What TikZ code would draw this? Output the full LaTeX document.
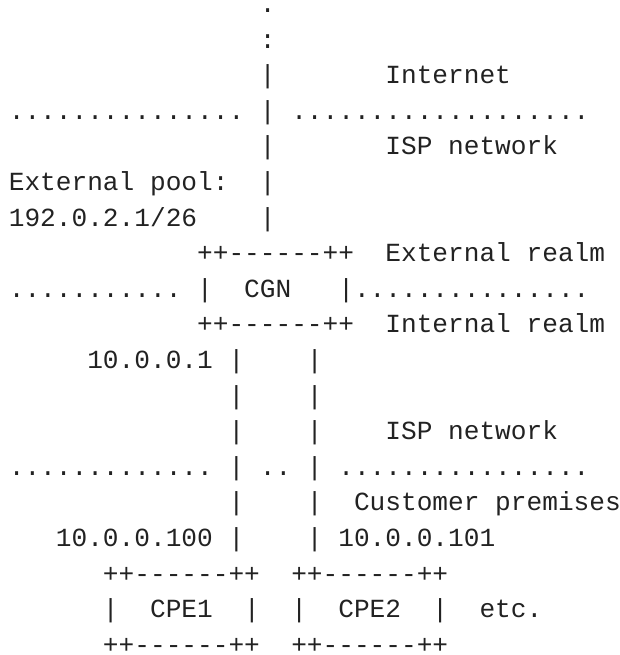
\documentclass[tikz,border=0pt]{standalone}
\usepackage{fontspec}
\newfontfamily\asciifont{Liberation Mono}[Ligatures=TeXOff]
\usepackage{xcolor}
\definecolor{inkgray}{HTML}{222222}

\begin{document}
\begin{tikzpicture}[x=15.69pt,y=-35.6pt,
    txt/.style={anchor=base west,inner sep=0pt,outer sep=0pt,text=inkgray,
      font=\asciifont\fontsize{26.15pt}{35.6pt}\selectfont}]
  \useasboundingbox (0pt,0pt) rectangle (619pt,-655pt);
  \begin{scope}[shift={(8.85pt,-12.5pt)}]
  % Uplink to the Internet
  \node[txt] (up1) at (16,0) {.};
  \node[txt] (up2) at (16,1) {:};
  \node[txt] (up3) at (16,2) {|};
  \node[txt] (internet) at (24,2) {Internet};

  % Internet / ISP border
  \node[txt] (isp-l) at (0,3) {...............};
  \node[txt] (up4) at (16,3) {|};
  \node[txt] (isp-r) at (18,3) {...................};
  \node[txt] (up5) at (16,4) {|};
  \node[txt] (ispnet1) at (24,4) {ISP network};

  % External pool
  \node[txt] (pool) at (0,5) {External pool:};
  \node[txt] (up6) at (16,5) {|};
  \node[txt] (prefix) at (0,6) {192.0.2.1/26};
  \node[txt] (up7) at (16,6) {|};

  % CGN box
  \node[txt] (cgn-t) at (12,7) {++------++};
  \node[txt] (extrealm) at (24,7) {External realm};
  \node[txt] (realm-l) at (0,8) {...........};
  \node[txt] (cgn-l) at (12,8) {|};
  \node[txt] (cgn) at (15,8) {CGN};
  \node[txt] (cgn-r) at (21,8) {|};
  \node[txt] (realm-r) at (22,8) {...............};
  \node[txt] (cgn-b) at (12,9) {++------++};
  \node[txt] (intrealm) at (24,9) {Internal realm};

  % Internal links
  \node[txt] (inaddr) at (5,10) {10.0.0.1};
  \node[txt] (la1) at (14,10) {|};
  \node[txt] (lb1) at (19,10) {|};
  \node[txt] (la2) at (14,11) {|};
  \node[txt] (lb2) at (19,11) {|};
  \node[txt] (la3) at (14,12) {|};
  \node[txt] (lb3) at (19,12) {|};
  \node[txt] (ispnet2) at (24,12) {ISP network};

  % ISP / customer border
  \node[txt] (cust-l) at (0,13) {.............};
  \node[txt] (la4) at (14,13) {|};
  \node[txt] (cust-m) at (16,13) {..};
  \node[txt] (lb4) at (19,13) {|};
  \node[txt] (cust-r) at (21,13) {................};
  \node[txt] (la5) at (14,14) {|};
  \node[txt] (lb5) at (19,14) {|};
  \node[txt] (custprem) at (22,14) {Customer premises};
  \node[txt] (addr1) at (3,15) {10.0.0.100};
  \node[txt] (la6) at (14,15) {|};
  \node[txt] (lb6) at (19,15) {|};
  \node[txt] (addr2) at (21,15) {10.0.0.101};

  % CPE boxes
  \node[txt] (cpe1-t) at (6,16) {++------++};
  \node[txt] (cpe2-t) at (18,16) {++------++};
  \node[txt] (cpe1-l) at (6,17) {|};
  \node[txt] (cpe1) at (9,17) {CPE1};
  \node[txt] (cpe1-r) at (15,17) {|};
  \node[txt] (cpe2-l) at (18,17) {|};
  \node[txt] (cpe2) at (21,17) {CPE2};
  \node[txt] (cpe2-r) at (27,17) {|};
  \node[txt] (etc) at (30,17) {etc.};
  \node[txt] (cpe1-b) at (6,18) {++------++};
  \node[txt] (cpe2-b) at (18,18) {++------++};
  \end{scope}
\end{tikzpicture}
\end{document}
